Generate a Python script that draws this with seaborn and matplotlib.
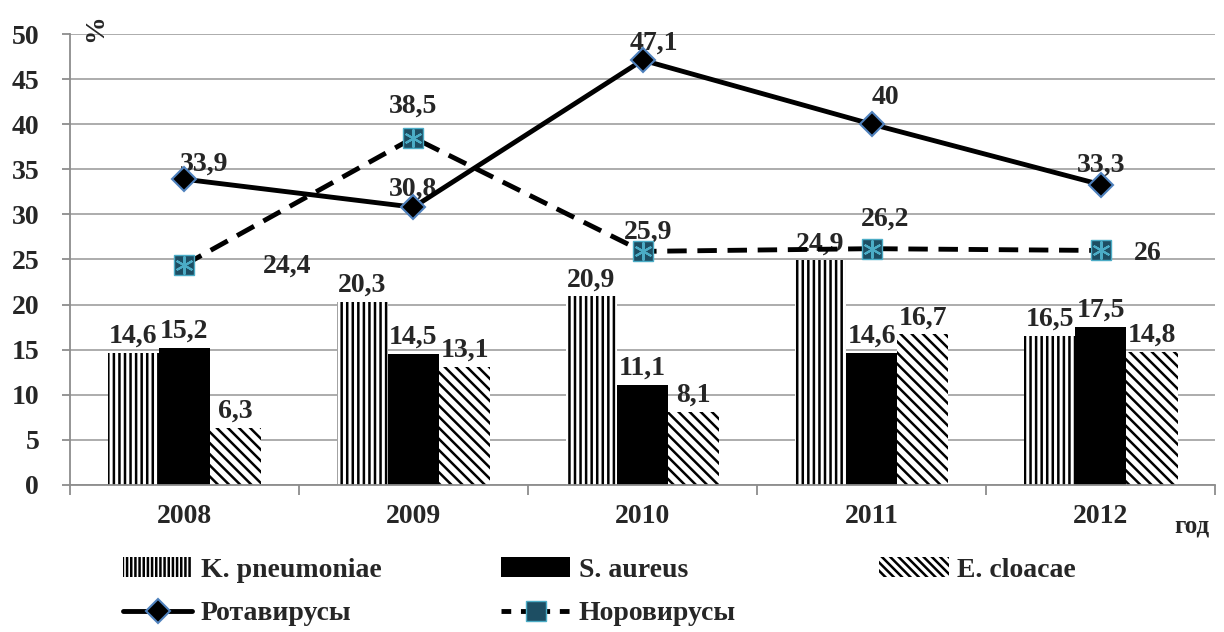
import numpy as np
import pandas as pd
import seaborn as sns
import matplotlib.pyplot as plt
from matplotlib.lines import Line2D
from matplotlib.patches import Patch
from matplotlib.font_manager import FontProperties

years = ['2008', '2009', '2010', '2011', '2012']
k_pneumoniae = [14.6, 20.3, 20.9, 24.9, 16.5]
s_aureus = [15.2, 14.5, 11.1, 14.6, 17.5]
e_cloacae = [6.3, 13.1, 8.1, 16.7, 14.8]
rota = [33.9, 30.8, 47.1, 40, 33.3]
noro = [24.4, 38.5, 25.9, 26.2, 26]
bar_names = ['K. pneumoniae', 'S. aureus', 'E. cloacae']

def fmt(v):
    return f'{v:g}'.replace('.', ',')

sns.set_style('white')
plt.rcParams['font.family'] = ['Liberation Serif', 'DejaVu Serif']
plt.rcParams['font.weight'] = 'bold'
plt.rcParams['hatch.linewidth'] = 1.8

FS = 20

df = pd.DataFrame({
    'year': years * 3,
    'value': k_pneumoniae + s_aureus + e_cloacae,
    'species': [n for n in bar_names for _ in years],
})

fig = plt.figure(figsize=(12.24, 6.32), dpi=100)
ax = fig.add_axes([0.057, 0.2326, 0.936, 0.7136])

sns.barplot(data=df, x='year', y='value', hue='species', palette=['white', 'black', 'white'],
            width=0.67, edgecolor='black', linewidth=0, ax=ax, legend=False)
hatches = ['|||', '', '\\\\\\']
for cont, h, vals in zip(ax.containers, hatches, [k_pneumoniae, s_aureus, e_cloacae]):
    for p in cont:
        p.set_hatch(h)
    ax.bar_label(cont, labels=[fmt(v) for v in vals], padding=3, fontsize=FS, fontweight='bold')

xs = np.arange(len(years))
ax.plot(xs, rota, color='black', lw=3.5, marker='D', ms=12, mfc='black', mec='#4f81bd', mew=1.5, zorder=5)
ax.plot(xs, noro, color='black', lw=3.5, ls=(0, (4, 2.2)), marker='s', ms=14, mfc='#1d4e63', mec='#4bacc6', mew=1, zorder=5)
ax.plot(xs, noro, ls='none', marker=(6, 2, 0), ms=13, mec='#4bacc6', mew=1.5, zorder=6)

# label offsets in points
rota_off = [(14, 2), (0, 4), (8, 3), (10, 10), (0, 5)]
noro_off = [(74, -10), (0, 14), (4, 5), (10, 12), (34, -11)]
for i, v in enumerate(rota):
    ax.annotate(fmt(v), (xs[i], v), xytext=rota_off[i], textcoords='offset points',
                ha='center', va='bottom', fontsize=FS, fontweight='bold')
for i, v in enumerate(noro):
    ax.annotate(fmt(v), (xs[i], v), xytext=noro_off[i], textcoords='offset points',
                ha='center', va='bottom', fontsize=FS, fontweight='bold')

ax.set_ylim(0, 50)
ax.set_xlim(-0.5, 4.5)
ax.set_yticks(range(0, 51, 5))
ax.yaxis.grid(True, color='#a6a6a6', lw=1.3)
ax.set_axisbelow(True)
for s in ['top', 'right']:
    ax.spines[s].set_visible(False)
for s in ['left', 'bottom']:
    ax.spines[s].set_color('#8c8c8c')
    ax.spines[s].set_linewidth(1.3)
ax.tick_params(axis='y', length=6, color='#8c8c8c', width=1.3, pad=16, labelsize=FS, left=True)
ax.tick_params(axis='x', length=0, pad=14, labelsize=FS)
ax.set_xticks(np.arange(-0.5, 5, 1), minor=True)
ax.tick_params(axis='x', which='minor', length=7, color='#8c8c8c', width=1.3, bottom=True)
for lab in ax.get_xticklabels() + ax.get_yticklabels():
    lab.set_fontweight('bold')
ax.set_xlabel('')
ax.set_ylabel('')

fig.text(0.078, 0.955, '%', rotation=90, fontsize=FS, fontweight='bold', ha='center', va='center')
fig.text(0.974, 0.168, 'год', fontsize=18, fontweight='bold', ha='center', va='center')

handles = [
    Patch(facecolor='white', edgecolor='black', lw=0, hatch='||||'),
    Line2D([], [], color='black', lw=3.5, marker='D', ms=12, mfc='black', mec='#4f81bd', mew=1.5),
    Patch(facecolor='black', edgecolor='black', lw=0),
    Line2D([], [], color='black', lw=3.5, ls=(0, (2, 2)), marker='s', ms=14, mfc='#1d4e63', mec='#4bacc6', mew=1),
]
labels = ['K. pneumoniae', 'Ротавирусы', 'S. aureus', 'Норовирусы']
leg_font = FontProperties(family=['Liberation Serif', 'DejaVu Serif'], weight='bold', size=FS)
leg_kw = dict(loc='upper left', frameon=False, prop=leg_font, handlelength=2.5,
              handletextpad=0.3, labelspacing=0.65, borderpad=0)
fig.legend(handles, labels, ncol=2, bbox_to_anchor=(0.089, 0.14), columnspacing=4.3, **leg_kw)
fig.legend([Patch(facecolor='white', edgecolor='black', lw=0, hatch='\\\\\\\\')], ['E. cloacae'],
           bbox_to_anchor=(0.707, 0.14), **leg_kw)

fig.savefig('out.png', dpi=100)
